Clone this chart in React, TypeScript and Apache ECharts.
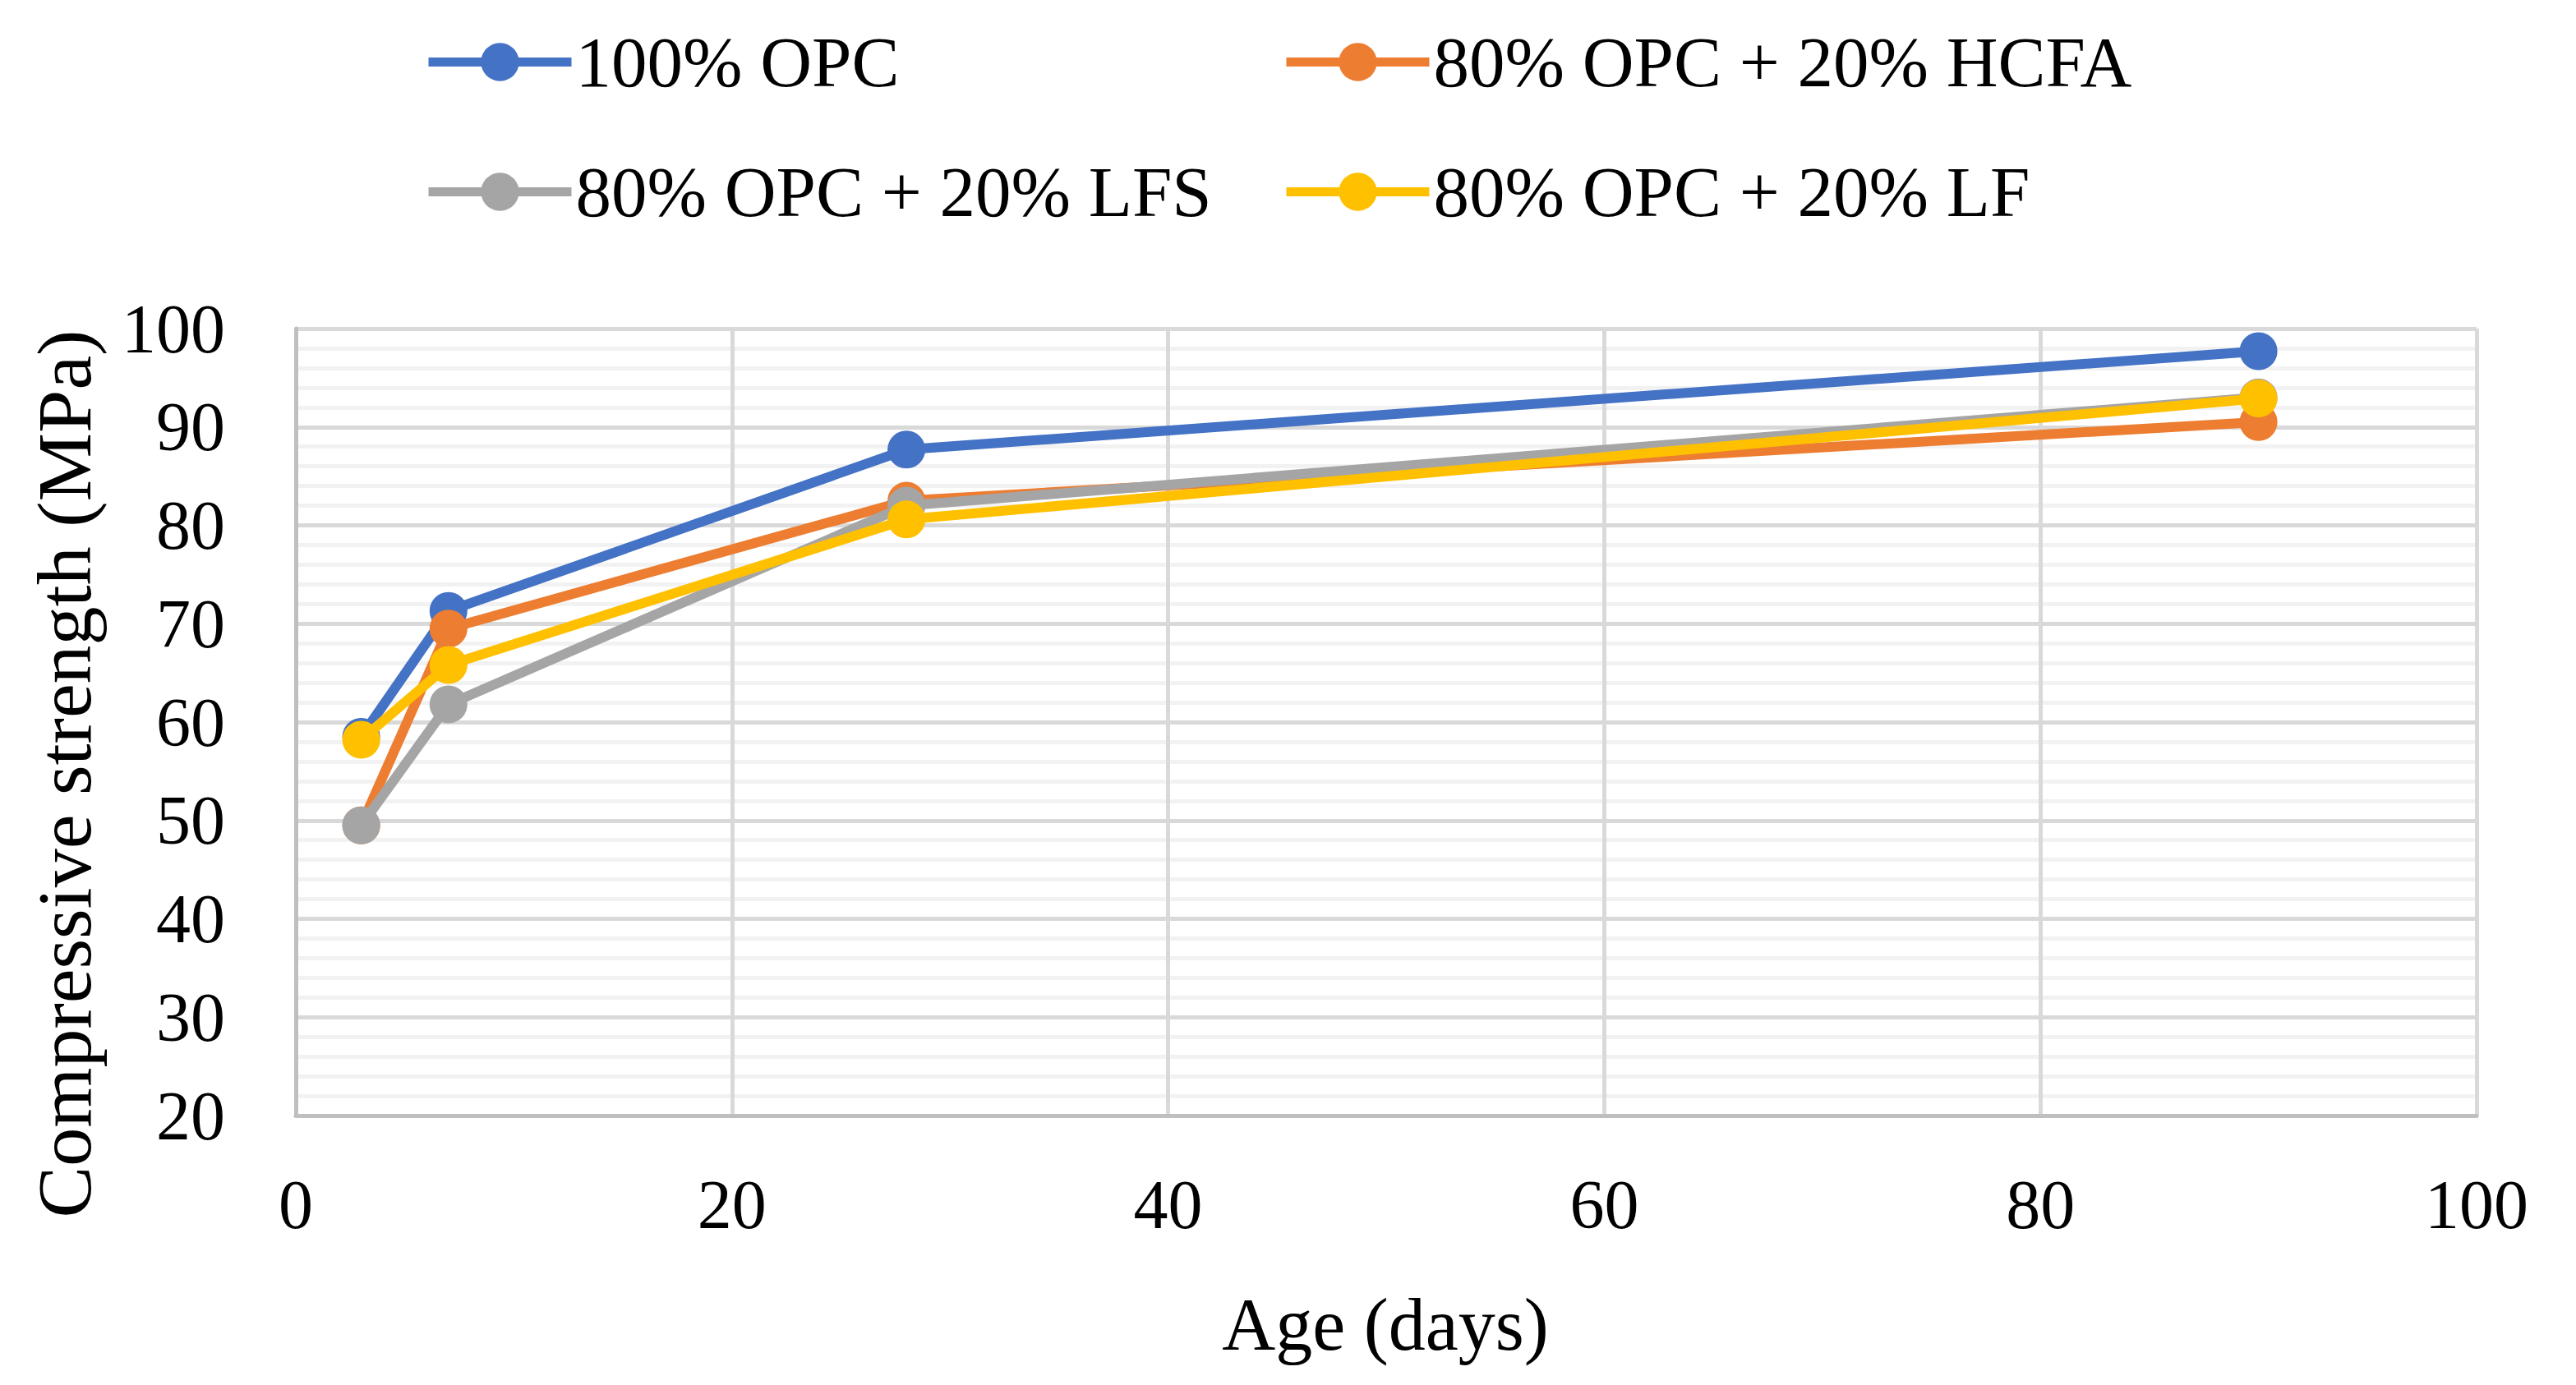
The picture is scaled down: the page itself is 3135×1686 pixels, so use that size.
import React, { useEffect, useRef } from "react";
import * as echarts from "echarts";

const ages = [3, 7, 28, 90];
const seriesNames = ["100% OPC", "80% OPC + 20% HCFA", "80% OPC + 20% LFS", "80% OPC + 20% LF"];
const opc = [58.5, 71.3, 87.7, 97.7];
const hcfa = [49.5, 69.5, 82.5, 90.5];
const lfs = [49.5, 61.8, 82.0, 93.0];
const lf = [58.2, 65.8, 80.6, 92.9];
const colors = ["#4472C4", "#ED7D31", "#A5A5A5", "#FFC000"];
const xTicks = [0, 20, 40, 60, 80, 100];
const yTicks = [20, 30, 40, 50, 60, 70, 80, 90, 100];
const xTitle = "Age (days)";
const yTitle = "Compressive strength (MPa)";

const FONT = "Liberation Serif";
const FS = 84;

export default function App() {
  const ref = useRef<HTMLDivElement>(null);
  useEffect(() => {
    if (!ref.current) return;
    const chart = echarts.init(ref.current, undefined, { renderer: "svg" });
    const values = [opc, hcfa, lfs, lf];
    const legendPos = [
      { left: 516, top: 76 },
      { left: 1560, top: 76 },
      { left: 516, top: 234 },
      { left: 1560, top: 234 },
    ];
    const ITEM_H = 58;
    const option: any = {
      animation: false,
      backgroundColor: "#ffffff",
      textStyle: { fontFamily: FONT },
      grid: { left: 360, right: 121, top: 400, bottom: 328, containLabel: false },
      legend: seriesNames.map((n, i) => ({
        data: [n],
        left: legendPos[i].left,
        top: legendPos[i].top - 44,
        padding: 0,
        itemWidth: 174,
        itemHeight: ITEM_H,
        lineStyle: { width: 11 },
        textStyle: { fontFamily: FONT, fontSize: 87, color: "#000" },
        selectedMode: false,
      })),
      xAxis: {
        type: "value",
        min: xTicks[0],
        max: xTicks[xTicks.length - 1],
        interval: 20,
        axisLine: { show: true, lineStyle: { color: "#BFBFBF", width: 5 } },
        axisTick: { show: false },
        axisLabel: { margin: 66, fontSize: FS, fontFamily: FONT, color: "#000" },
        splitLine: { show: true, lineStyle: { color: "#D9D9D9", width: 5 } },
      },
      yAxis: {
        type: "value",
        min: yTicks[0],
        max: yTicks[yTicks.length - 1],
        interval: 10,
        axisLine: { show: true, lineStyle: { color: "#BFBFBF", width: 5 } },
        axisTick: { show: false },
        axisLabel: { margin: 86, fontSize: FS, fontFamily: FONT, color: "#000" },
        splitLine: { show: true, lineStyle: { color: "#D9D9D9", width: 5 } },
        minorTick: { show: false, splitNumber: 5 },
        minorSplitLine: { show: true, lineStyle: { color: "#F2F2F2", width: 5 } },
      },
      graphic: [
        {
          type: "text",
          x: 78,
          y: 942,
          rotation: Math.PI / 2,
          style: {
            text: yTitle,
            fontFamily: FONT,
            fontSize: 94,
            fill: "#000",
            align: "center",
            verticalAlign: "middle",
          },
        },
        {
          type: "text",
          x: 1686,
          y: 1612,
          style: {
            text: xTitle,
            fontFamily: FONT,
            fontSize: 90,
            fill: "#000",
            align: "center",
            verticalAlign: "middle",
          },
        },
      ],
      series: seriesNames.map((n, i) => ({
        name: n,
        type: "line",
        data: ages.map((a, j) => [a, values[i][j]]),
        symbol: "circle",
        symbolSize: 46,
        showSymbol: true,
        lineStyle: { color: colors[i], width: 12 },
        itemStyle: { color: colors[i] },
        z: 2 + i,
      })),
    };
    chart.setOption(option);
    return () => chart.dispose();
  }, []);
  return (
    <div
      ref={ref}
      style={{ position: "fixed", left: 0, top: 0, width: "3135px", height: "1686px", background: "#fff" }}
    />
  );
}
